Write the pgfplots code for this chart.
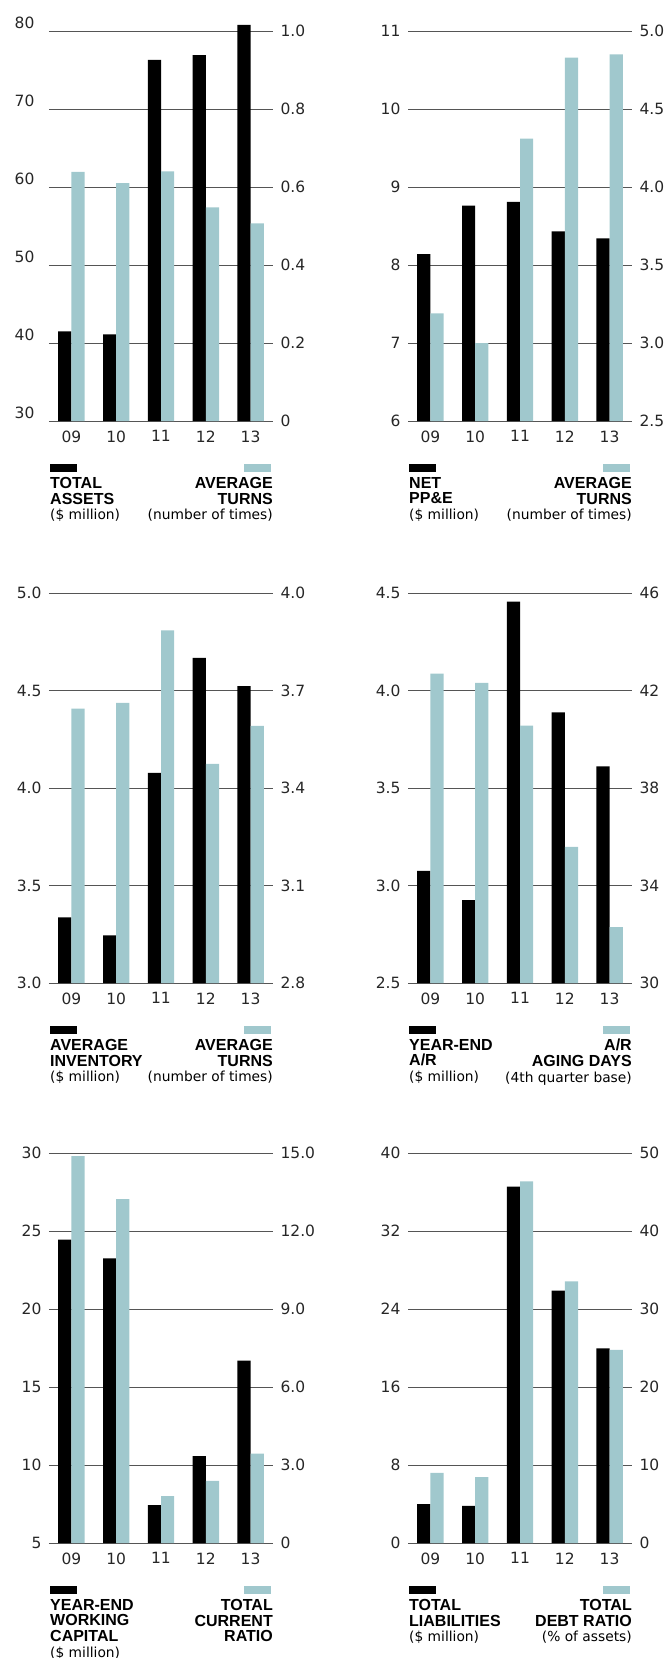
\documentclass[border=0pt]{standalone}
\usepackage{pgfplots}
\pgfplotsset{compat=1.18}
\usepackage{fontspec}
\setmainfont{DejaVu Sans}
\newfontfamily\lsans{Liberation Sans}

\definecolor{teal}{HTML}{A0C8CD}
\definecolor{gridc}{HTML}{555555}

\newcommand{\hd}{\lsans\bfseries\fontsize{16}{15.6}\selectfont}
\newcommand{\sub}{\fontsize{13.8}{15.6}\selectfont}

\pgfplotsset{
  base/.style={
    width=224pt, height=390pt, scale only axis,
    xmin=-0.5, xmax=4.5, enlargelimits=false,
    axis line style={draw=none},
    major tick length=0pt,
    /pgf/number format/assume math mode=true,
    tick label style={font=\fontsize{15.5}{18}\selectfont, text=black!85},
  },
  leftax/.style={base,
    ymajorgrids, grid style={draw=gridc, line width=1pt},
    xtick={0,1,2,3,4}, xticklabels={09,10,11,12,13},
    xticklabel style={yshift=-6pt},
    yticklabel style={xshift=-4pt},
  },
  rightax/.style={base,
    xtick=\empty, yticklabel pos=right,
    yticklabel style={xshift=4pt},
  },
  blk/.style={ybar, bar width=13.2pt, bar shift=-6.6pt, fill=black, draw=none},
  tea/.style={ybar, bar width=13.2pt, bar shift=6.6pt, fill=teal, draw=none},
}

% legend swatches and captions under a panel
\newcommand{\lgd}[3]{%
  \node[fill=black, minimum width=27pt, minimum height=8pt, inner sep=0pt, anchor=north west]
    at ([xshift=1pt,yshift=-43pt]#1.south west) {};
  \node[fill=teal, minimum width=27pt, minimum height=8pt, inner sep=0pt, anchor=north east]
    at ([xshift=-2pt,yshift=-43pt]#1.south east) {};
  \node[anchor=north west, align=left, inner sep=0pt, font=\fontsize{16}{15.7}\selectfont]
    at ([xshift=1pt,yshift=-56pt]#1.south west) {#2};
  \node[anchor=north east, align=right, inner sep=0pt, font=\fontsize{16}{15.7}\selectfont]
    at ([yshift=-56pt]#1.south east) {#3};
}

\begin{document}
\begin{tikzpicture}
\useasboundingbox (0,0) rectangle (667pt,-1658pt);

% ---------- panel 1: total assets / average turns
\begin{axis}[leftax, name=a1, at={(49pt,-421pt)}, anchor=south west,
    height=405.6pt, ymin=30, ymax=82,
    ytick={30,40,50,60,70,80},
    yticklabel style={xshift=-7pt, yshift=8.5pt}]
  \addplot[blk] coordinates {(0,41.5) (1,41.1) (2,76.3) (3,76.9) (4,80.8)};
\end{axis}
\begin{axis}[rightax, at={(49pt,-421pt)}, anchor=south west,
    height=405.6pt, ymin=0, ymax=1.04,
    ytick={0,0.2,0.4,0.6,0.8,1.0}, yticklabels={0,0.2,0.4,0.6,0.8,1.0}]
  \addplot[tea] coordinates {(0,0.639) (1,0.610) (2,0.640) (3,0.548) (4,0.507)};
\end{axis}
\lgd{a1}{\hd TOTAL\\\hd ASSETS\\\sub (\$ million)}{\hd AVERAGE\\\hd TURNS\\\sub (number of times)}

% ---------- panel 2: net PP&E / average turns
\begin{axis}[leftax, name=a2, at={(408pt,-421pt)}, anchor=south west,
    ymin=6, ymax=11, ytick={6,7,8,9,10,11}]
  \addplot[blk] coordinates {(0,8.14) (1,8.76) (2,8.81) (3,8.43) (4,8.34)};
\end{axis}
\begin{axis}[rightax, at={(408pt,-421pt)}, anchor=south west,
    ymin=2.5, ymax=5, ytick={2.5,3,3.5,4,4.5,5},
    yticklabels={2.5,3.0,3.5,4.0,4.5,5.0}]
  \addplot[tea] coordinates {(0,3.19) (1,3.00) (2,4.31) (3,4.83) (4,4.85)};
\end{axis}
\lgd{a2}{\hd NET\\\hd PP\&E\\\sub (\$ million)}{\hd AVERAGE\\\hd TURNS\\\sub (number of times)}

% ---------- panel 3: average inventory / average turns
\begin{axis}[leftax, name=a3, at={(49pt,-983pt)}, anchor=south west,
    ymin=3, ymax=5, ytick={3,3.5,4,4.5,5},
    yticklabels={3.0,3.5,4.0,4.5,5.0}]
  \addplot[blk] coordinates {(0,3.337) (1,3.244) (2,4.078) (3,4.667) (4,4.523)};
\end{axis}
\begin{axis}[rightax, at={(49pt,-983pt)}, anchor=south west,
    ymin=2.8, ymax=4, ytick={2.8,3.1,3.4,3.7,4},
    yticklabels={2.8,3.1,3.4,3.7,4.0}]
  \addplot[tea] coordinates {(0,3.644) (1,3.662) (2,3.885) (3,3.474) (4,3.591)};
\end{axis}
\lgd{a3}{\hd AVERAGE\\\hd INVENTORY\\\sub (\$ million)}{\hd AVERAGE\\\hd TURNS\\\sub (number of times)}

% ---------- panel 4: year-end A/R / aging days
\begin{axis}[leftax, name=a4, at={(408pt,-983pt)}, anchor=south west,
    ymin=2.5, ymax=4.5, ytick={2.5,3,3.5,4,4.5},
    yticklabels={2.5,3.0,3.5,4.0,4.5}]
  \addplot[blk] coordinates {(0,3.075) (1,2.925) (2,4.456) (3,3.888) (4,3.611)};
\end{axis}
\begin{axis}[rightax, at={(408pt,-983pt)}, anchor=south west,
    ymin=30, ymax=46, ytick={30,34,38,42,46}]
  \addplot[tea] coordinates {(0,42.69) (1,42.31) (2,40.56) (3,35.59) (4,32.29)};
\end{axis}
\lgd{a4}{\hd YEAR-END\\\hd A/R\\\sub (\$ million)}{\hd A/R\\\hd AGING DAYS\\\sub (4th quarter base)}

% ---------- panel 5: working capital / current ratio
\begin{axis}[leftax, name=a5, at={(49pt,-1543pt)}, anchor=south west,
    ymin=5, ymax=30, ytick={5,10,15,20,25,30}]
  \addplot[blk] coordinates {(0,24.45) (1,23.24) (2,7.43) (3,10.57) (4,16.69)};
\end{axis}
\begin{axis}[rightax, at={(49pt,-1543pt)}, anchor=south west,
    ymin=0, ymax=15, ytick={0,3,6,9,12,15},
    yticklabels={0,3.0,6.0,9.0,12.0,15.0}]
  \addplot[tea] coordinates {(0,14.88) (1,13.23) (2,1.80) (3,2.39) (4,3.44)};
\end{axis}
\lgd{a5}{\hd YEAR-END\\\hd WORKING\\\hd CAPITAL\\\sub (\$ million)}{\hd TOTAL\\\hd CURRENT\\\hd RATIO}

% ---------- panel 6: total liabilities / debt ratio
\begin{axis}[leftax, name=a6, at={(408pt,-1543pt)}, anchor=south west,
    ymin=0, ymax=40, ytick={0,8,16,24,32,40}]
  \addplot[blk] coordinates {(0,4.0) (1,3.82) (2,36.55) (3,25.89) (4,19.96)};
\end{axis}
\begin{axis}[rightax, at={(408pt,-1543pt)}, anchor=south west,
    ymin=0, ymax=50, ytick={0,10,20,30,40,50}]
  \addplot[tea] coordinates {(0,9.0) (1,8.45) (2,46.36) (3,33.55) (4,24.77)};
\end{axis}
\lgd{a6}{\hd TOTAL\\\hd LIABILITIES\\\sub (\$ million)}{\hd TOTAL\\\hd DEBT RATIO\\\sub (\% of assets)}

\end{tikzpicture}
\end{document}
